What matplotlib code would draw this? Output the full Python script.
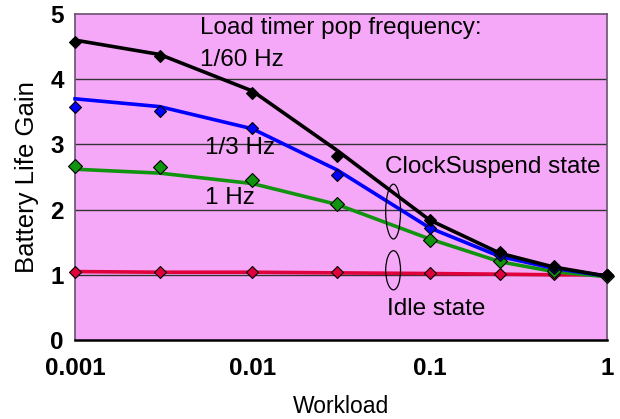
import matplotlib.pyplot as plt
from matplotlib.patches import Ellipse
import numpy as np

plt.rcParams['font.family'] = ['Liberation Sans', 'DejaVu Sans']

# Carga de trabalho (eixo x, escala log)
workload = [0.001, 0.003, 0.01, 0.03, 0.1, 0.25, 0.5, 1.0]

# Pontos medidos
med_60 = [4.57, 4.36, 3.79, 2.82, 1.84, 1.35, 1.14, 1.00]
med_3 = [3.57, 3.51, 3.25, 2.53, 1.72, 1.30, 1.10, 1.00]
med_1 = [2.67, 2.65, 2.45, 2.09, 1.53, 1.21, 1.06, 0.98]
med_idle = [1.05, 1.04, 1.04, 1.04, 1.03, 1.01, 1.01, 1.00]

# Curvas do modelo
mod_60 = [4.60, 4.38, 3.82, 2.91, 1.84, 1.33, 1.12, 0.98]
mod_3 = [3.70, 3.58, 3.24, 2.61, 1.72, 1.28, 1.10, 0.98]
mod_1 = [2.62, 2.56, 2.40, 2.08, 1.55, 1.20, 1.05, 0.97]
mod_idle = [1.05, 1.04, 1.04, 1.03, 1.02, 1.01, 1.00, 1.00]

FS = 17.5

fig = plt.figure(figsize=(6.2, 4.19), dpi=100)
ax = fig.add_axes([0.121, 0.1885, 0.858, 0.778])
ax.set_facecolor('#F6A8F8')

series = [
    (mod_idle, med_idle, '#E0003C', 6),
    (mod_1, med_1, '#109410', 7),
    (mod_3, med_3, '#0000FF', 6.5),
    (mod_60, med_60, '#000000', 6.5),
]
for mod, med, cor, tam in series:
    ax.plot(workload, mod, color=cor, lw=2.6, zorder=3, clip_on=False)
    ax.plot(workload, med, linestyle='none', marker='D', ms=tam, mfc=cor,
            mec='#000000', mew=0.8, zorder=4, clip_on=False)

ax.set_xscale('log')
ax.set_xlim(0.001, 1)
ax.set_ylim(0, 5)
ax.set_xticks([0.001, 0.01, 0.1, 1])
ax.set_xticklabels(['0.001', '0.01', '0.1', '1'])
ax.minorticks_off()
ax.set_yticks(range(6))
ax.tick_params(length=0, labelsize=FS)
ax.tick_params(axis='x', pad=12)
ax.tick_params(axis='y', pad=8)
for lab in ax.get_xticklabels() + ax.get_yticklabels():
    lab.set_fontweight('bold')

for y in [1, 2, 3, 4]:
    ax.axhline(y, color='#333333', lw=1, zorder=1)

for lado in ['left', 'top', 'right']:
    ax.spines[lado].set_color('#6a5070')
    ax.spines[lado].set_linewidth(1.2)
ax.spines['bottom'].set_color('#000000')
ax.spines['bottom'].set_linewidth(1.8)

ax.set_xlabel('Workload', fontsize=16.5, labelpad=11)
ax.set_ylabel('Battery Life Gain', fontsize=18.5, labelpad=8)

ax.text(0.00507, 4.785, 'Load timer pop frequency:', fontsize=FS, va='center')
ax.text(0.00507, 4.29, '1/60 Hz', fontsize=FS, va='center')
ax.text(0.0054, 2.94, '1/3 Hz', fontsize=FS, va='center')
ax.text(0.0054, 2.18, '1 Hz', fontsize=FS, va='center')
ax.text(0.0560, 2.65, 'ClockSuspend state', fontsize=FS, va='center')
ax.text(0.0575, 0.475, 'Idle state', fontsize=FS, va='center')

# Elipses que agrupam as curvas
for yc, h in [(1.97, 0.84), (1.07, 0.60)]:
    ax.add_patch(Ellipse((0.0625, yc), width=0.012, height=h,
                         fill=False, ec='#000000', lw=0.9, zorder=5))

fig.savefig('out.png', dpi=100)
